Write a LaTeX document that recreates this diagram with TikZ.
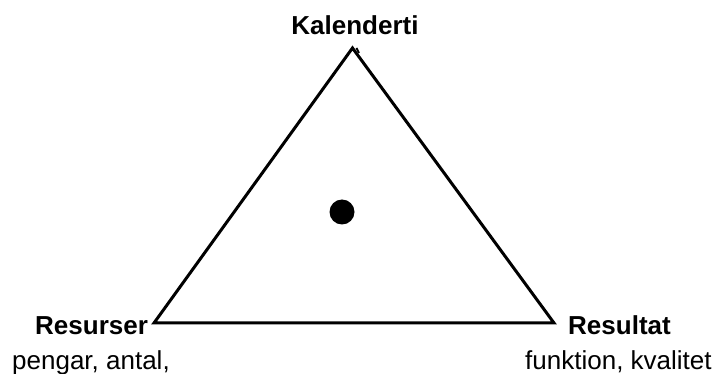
\documentclass[tikz,border=0pt]{standalone}
\usepackage{fontspec}
\setmainfont{Liberation Sans}
\begin{document}
\begin{tikzpicture}[x=1pt,y=-1pt,
  lbl/.style={font=\fontsize{26}{30}\selectfont\bfseries, inner sep=0pt},
  sub/.style={font=\fontsize{26}{30}\selectfont, inner sep=0pt},
  edge/.style={line width=3pt, line join=miter}]
\useasboundingbox (0,0) rectangle (716,374);
\coordinate (A) at (352.5,48);
\coordinate (B) at (154,323);
\coordinate (C) at (554,323);
\draw[edge] (A) -- (B) -- (C) -- cycle;
\coordinate (t1) at (356.5,48);
\coordinate (t2) at (359,53);
\draw[line width=2pt] (t1) -- (t2);
\node[circle, fill=black, minimum size=25pt, inner sep=0pt] (dot) at (342,212) {};
\node[lbl, anchor=base] (kal) at (355,35) {Kalenderti};
\node[lbl, anchor=base west] (res) at (35,335) {Resurser};
\node[lbl, anchor=base west] (rsl) at (568,335) {Resultat};
\node[sub, anchor=base west] (pen) at (12,370) {pengar, antal,};
\node[sub, anchor=base west] (fun) at (525,370) {funktion, kvalitet};
\end{tikzpicture}
\end{document}
